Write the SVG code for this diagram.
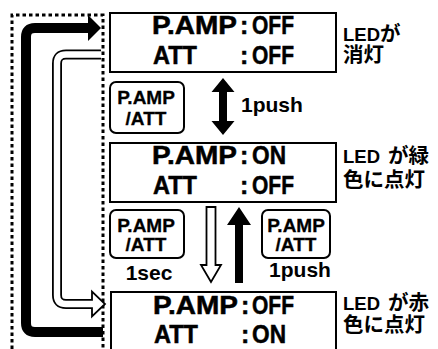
<svg xmlns="http://www.w3.org/2000/svg" width="438" height="349" viewBox="0 0 438 349">
<style>
.box{fill:#fff;stroke:#000;stroke-width:2}
.btnbox{fill:#fff;stroke:#000;stroke-width:2}
.t{font-family:"Liberation Sans",Arial,sans-serif;font-weight:bold;fill:#000}
.big{font-size:25px;stroke:#000;stroke-width:0.5}
.btn{font-size:19px;text-anchor:middle;stroke:#000;stroke-width:0.3}
.lbl{font-size:21px}
.jp{font-family:"Liberation Sans","Noto Sans CJK JP",sans-serif;font-weight:bold;font-size:20.5px;fill:#000}
.lat{font-size:18.5px}
.dot{fill:none;stroke:#000;stroke-width:3;stroke-dasharray:3.5 3}
</style>
<rect width="438" height="349" fill="#fff"/>
<g id="frame">
<path class="dot" d="M12 349 V15 H103 V349"/>
</g>
<g id="connectors">
<path d="M103 332 H35 Q26 332 26 323 V37 Q26 28 35 28 H89" fill="none" stroke="#000" stroke-width="10"/>
<polygon points="88,15 101,28 88,41" fill="#000"/>
<path d="M101 54.5 H66 Q57 54.5 57 63.5 V295 Q57 304 66 304 H93" fill="none" stroke="#000" stroke-width="10"/>
<path d="M92 299 V291.5 L105 304 L92 316.5 V309 Z" fill="#fff" stroke="#000" stroke-width="1.8" stroke-linejoin="miter"/>
<path d="M101 54.5 H66 Q57 54.5 57 63.5 V295 Q57 304 66 304 H94" fill="none" stroke="#fff" stroke-width="6.4"/>
<polygon points="223,78 234.5,92 227,92 227,121 234.5,121 223,135 211.5,121 219,121 219,92 211.5,92" fill="#000"/>
<polygon points="206.5,207 215.5,207 215.5,265 221,265 211,282 201,265 206.5,265" fill="#fff" stroke="#000" stroke-width="1.8"/>
<polygon points="239,207 251,225 243,225 243,283 235,283 235,225 227,225" fill="#000"/>
</g>
<g id="state1">
<rect class="box" x="110" y="13" width="226" height="59"/>
<text class="t big" x="152" y="34" textLength="85" lengthAdjust="spacingAndGlyphs">P.AMP</text>
<text class="t big" x="240" y="34">:</text>
<text class="t big" x="252" y="34" textLength="42" lengthAdjust="spacingAndGlyphs">OFF</text>
<text class="t big" x="153" y="64" textLength="44" lengthAdjust="spacingAndGlyphs">ATT</text>
<text class="t big" x="240" y="64">:</text>
<text class="t big" x="252" y="64" textLength="42" lengthAdjust="spacingAndGlyphs">OFF</text>
</g>
<g id="state2">
<rect class="box" x="110" y="143" width="226" height="59"/>
<text class="t big" x="152" y="164" textLength="85" lengthAdjust="spacingAndGlyphs">P.AMP</text>
<text class="t big" x="240" y="164">:</text>
<text class="t big" x="252" y="164" textLength="34" lengthAdjust="spacingAndGlyphs">ON</text>
<text class="t big" x="153" y="194" textLength="44" lengthAdjust="spacingAndGlyphs">ATT</text>
<text class="t big" x="240" y="194">:</text>
<text class="t big" x="252" y="194" textLength="42" lengthAdjust="spacingAndGlyphs">OFF</text>
</g>
<g id="state3">
<rect class="box" x="111" y="292" width="225" height="70"/>
<text class="t big" x="153" y="314" textLength="85" lengthAdjust="spacingAndGlyphs">P.AMP</text>
<text class="t big" x="241" y="314">:</text>
<text class="t big" x="252" y="314" textLength="42" lengthAdjust="spacingAndGlyphs">OFF</text>
<text class="t big" x="154" y="343" textLength="44" lengthAdjust="spacingAndGlyphs">ATT</text>
<text class="t big" x="241" y="343">:</text>
<text class="t big" x="252" y="343" textLength="34" lengthAdjust="spacingAndGlyphs">ON</text>
</g>
<g id="btn1">
<rect class="btnbox" x="110" y="82" width="74" height="51" rx="6"/>
<text class="t btn" x="146" y="104">P.AMP</text>
<text class="t btn" x="146" y="125">/ATT</text>
</g>
<g id="btn2">
<rect class="btnbox" x="110" y="210" width="74" height="48" rx="6"/>
<text class="t btn" x="146" y="232">P.AMP</text>
<text class="t btn" x="146" y="251">/ATT</text>
<text class="t lbl" x="149" y="280" text-anchor="middle">1sec</text>
</g>
<g id="btn3">
<rect class="btnbox" x="262" y="210" width="68" height="48" rx="6"/>
<text class="t btn" x="296" y="232">P.AMP</text>
<text class="t btn" x="296" y="251">/ATT</text>
<text class="t lbl" x="300" y="277" text-anchor="middle">1push</text>
</g>
<g id="push1">
<text class="t lbl" x="241" y="112">1push</text>
</g>
<g id="led1">
<text class="jp" x="343" y="41"><tspan class="lat">LED</tspan>が</text>
<text class="jp" x="343" y="62">消灯</text>
</g>
<g id="led2">
<text class="jp" x="343" y="163"><tspan class="lat">LED</tspan><tspan dx="8">が緑</tspan></text>
<text class="jp" x="343" y="187">色に点灯</text>
</g>
<g id="led3">
<text class="jp" x="343" y="310"><tspan class="lat">LED</tspan><tspan dx="8">が赤</tspan></text>
<text class="jp" x="343" y="332">色に点灯</text>
</g>
</svg>
